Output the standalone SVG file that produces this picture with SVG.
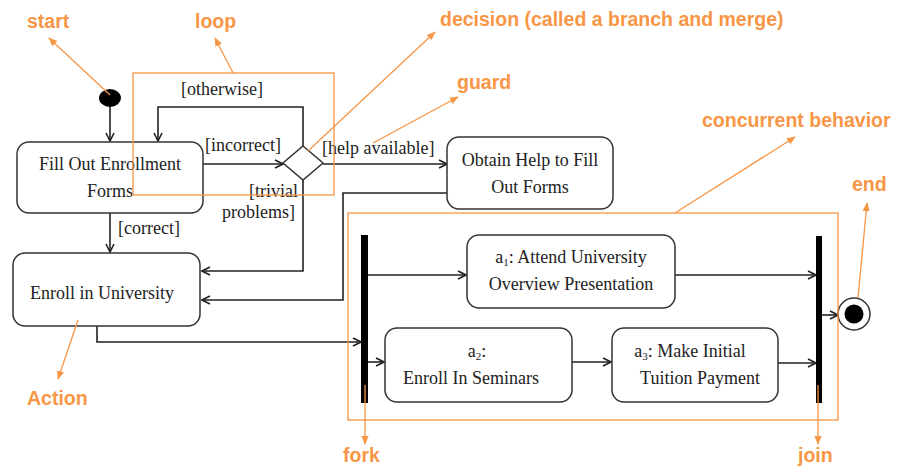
<svg xmlns="http://www.w3.org/2000/svg" width="902" height="466" viewBox="0 0 902 466">
<defs>
<style>
.node{fill:#fff;stroke:#333;stroke-width:1.5}
.t{font-family:"Liberation Serif","Times New Roman",serif;font-size:18px;fill:#222;text-anchor:middle}
.g{font-family:"Liberation Serif","Times New Roman",serif;font-size:18px;fill:#222}
.c{fill:none;stroke:#222;stroke-width:1.6}
.o{fill:none;stroke:#F79646;stroke-width:1.3}
.ol{font-family:"Liberation Sans",Arial,sans-serif;font-size:19.5px;font-weight:bold;fill:#F79646}
</style>
<marker id="a" viewBox="0 0 10 10" refX="9" refY="5" markerWidth="10" markerHeight="10" markerUnits="userSpaceOnUse" orient="auto"><path d="M1,1 L9,5 L1,9" fill="none" stroke="#222" stroke-width="1.6"/></marker>
<marker id="oa" viewBox="0 0 10 10" refX="9" refY="5" markerWidth="9" markerHeight="9" markerUnits="userSpaceOnUse" orient="auto"><path d="M0,1 L10,5 L0,9 Z" fill="#F79646"/></marker>
</defs>

<g id="connectors">
<line class="c" x1="110" y1="107" x2="110" y2="141" marker-end="url(#a)"/>
<line class="c" x1="203" y1="164" x2="283" y2="164" marker-end="url(#a)"/>
<polyline class="c" points="303,146 303,107 158,107 158,141" marker-end="url(#a)"/>
<line class="c" x1="323" y1="164" x2="447" y2="164" marker-end="url(#a)"/>
<polyline class="c" points="303,180 303,271 202,271" marker-end="url(#a)"/>
<polyline class="c" points="447,193 343,193 343,300 202,300" marker-end="url(#a)"/>
<line class="c" x1="110" y1="213" x2="110" y2="252" marker-end="url(#a)"/>
<polyline class="c" points="97,326 97,342 361,342" marker-end="url(#a)"/>
<line class="c" x1="368" y1="275" x2="466" y2="275" marker-end="url(#a)"/>
<line class="c" x1="368" y1="362" x2="384" y2="362" marker-end="url(#a)"/>
<line class="c" x1="572" y1="362" x2="611" y2="362" marker-end="url(#a)"/>
<line class="c" x1="675" y1="275" x2="816" y2="275" marker-end="url(#a)"/>
<line class="c" x1="778" y1="363" x2="816" y2="363" marker-end="url(#a)"/>
<line class="c" x1="822" y1="315" x2="838" y2="315" marker-end="url(#a)"/>
</g>

<g id="guards">
<text class="g" x="181" y="95">[otherwise]</text>
<text class="g" x="205" y="151">[incorrect]</text>
<text class="g" x="322" y="154">[help available]</text>
<text class="g" x="249" y="197">[trivial</text>
<text class="g" x="222" y="218">problems]</text>
<text class="g" x="118" y="234">[correct]</text>
</g>

<g id="start"><ellipse cx="110" cy="98" rx="11" ry="9" fill="#000"/></g>

<g id="fill-out">
<rect class="node" x="17" y="142" width="186" height="71" rx="12"/>
<text class="t" x="110" y="170">Fill Out Enrollment</text>
<text class="t" x="110" y="197">Forms</text>
</g>

<g id="decision"><polygon class="node" points="303,146 323,163 303,180 283,163"/></g>

<g id="obtain-help">
<rect class="node" x="447" y="137" width="166" height="72" rx="12"/>
<text class="t" x="530" y="166">Obtain Help to Fill</text>
<text class="t" x="530" y="193">Out Forms</text>
</g>

<g id="enroll">
<rect class="node" x="13" y="253" width="187" height="73" rx="12"/>
<text class="t" x="102" y="299">Enroll in University</text>
</g>

<g id="fork"><rect x="361" y="235" width="7" height="168" fill="#000"/></g>

<g id="a1">
<rect class="node" x="467" y="235" width="208" height="73" rx="12"/>
<text class="t" x="571" y="263">a<tspan font-size="11" dy="3">1</tspan><tspan dy="-3">: Attend University</tspan></text>
<text class="t" x="571" y="290">Overview Presentation</text>
</g>

<g id="a2">
<rect class="node" x="385" y="328" width="187" height="74" rx="12"/>
<text class="t" x="477" y="357">a<tspan font-size="11" dy="3">2</tspan><tspan dy="-3">:</tspan></text>
<text class="t" x="471" y="384">Enroll In Seminars</text>
</g>

<g id="a3">
<rect class="node" x="612" y="328" width="166" height="74" rx="12"/>
<text class="t" x="690" y="357">a<tspan font-size="11" dy="3">3</tspan><tspan dy="-3">: Make Initial</tspan></text>
<text class="t" x="700" y="384">Tuition Payment</text>
</g>

<g id="join"><rect x="816" y="236" width="6" height="167" fill="#000"/></g>

<g id="end">
<circle cx="854" cy="314" r="16" fill="#fff" stroke="#333" stroke-width="1.5"/>
<circle cx="854" cy="314" r="9.5" fill="#000"/>
</g>

<g id="annotations">
<rect class="o" x="133" y="73" width="201" height="122"/>
<rect class="o" x="348" y="213" width="490" height="207"/>
<line class="o" x1="110" y1="95" x2="49" y2="38" marker-end="url(#oa)"/>
<line class="o" x1="233" y1="73" x2="215" y2="38" marker-end="url(#oa)"/>
<line class="o" x1="308" y1="151" x2="435" y2="32" marker-end="url(#oa)"/>
<line class="o" x1="373" y1="143" x2="458" y2="97" marker-end="url(#oa)"/>
<line class="o" x1="675" y1="213" x2="795" y2="137" marker-end="url(#oa)"/>
<line class="o" x1="858" y1="298" x2="867" y2="203" marker-end="url(#oa)"/>
<line class="o" x1="78" y1="320" x2="58" y2="379" marker-end="url(#oa)"/>
<line class="o" x1="365" y1="385" x2="365" y2="444" marker-end="url(#oa)"/>
<line class="o" x1="818" y1="385" x2="818" y2="444" marker-end="url(#oa)"/>
<text class="ol" x="27" y="28">start</text>
<text class="ol" x="195" y="28">loop</text>
<text class="ol" x="440" y="26">decision (called a branch and merge)</text>
<text class="ol" x="457" y="89">guard</text>
<text class="ol" x="702" y="127">concurrent behavior</text>
<text class="ol" x="852" y="191">end</text>
<text class="ol" x="27" y="405">Action</text>
<text class="ol" x="343" y="462">fork</text>
<text class="ol" x="798" y="462">join</text>
</g>
</svg>
